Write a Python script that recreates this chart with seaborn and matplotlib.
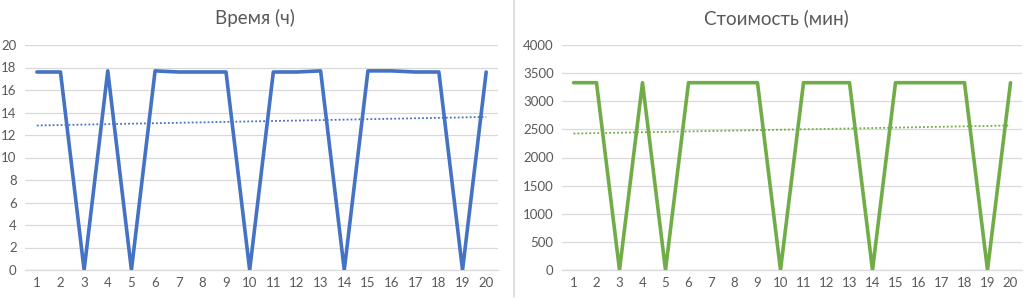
import matplotlib
matplotlib.use("Agg")
import matplotlib.pyplot as plt
import seaborn as sns
import numpy as np
from matplotlib.lines import Line2D

sns.set_theme(style="white")
plt.rcParams['font.family'] = ['Lato', 'DejaVu Sans']

runs = list(range(1, 21))
time_h = [17.6, 17.6, 0, 17.7, 0, 17.7, 17.6, 17.6, 17.6, 0,
          17.6, 17.6, 17.7, 0, 17.7, 17.7, 17.6, 17.6, 0, 17.6]
cost_min = [3330, 3330, 0, 3330, 0, 3330, 3330, 3330, 3330, 0,
            3330, 3330, 3330, 0, 3330, 3330, 3330, 3330, 0, 3330]
titles = ["Время (ч)", "Стоимость (мин)"]
yticks_left = [0, 2, 4, 6, 8, 10, 12, 14, 16, 18, 20]
yticks_right = [0, 500, 1000, 1500, 2000, 2500, 3000, 3500, 4000]

W, H = 1034, 300
fig = plt.figure(figsize=(W / 100, H / 100), dpi=100)
fig.patch.set_facecolor("white")

tick_color = "#595959"
grid_color = "#d9d9d9"

def panel(x0, x1, y, color, yticks, title, title_cx):
    ax = fig.add_axes([x0 / W, (H - 270) / H, (x1 - x0) / W, (270 - 45) / H])
    sns.lineplot(x=runs, y=y, ax=ax, color=color, lw=2.6, zorder=3)
    sns.regplot(x=np.array(runs, dtype=float), y=np.array(y, dtype=float), ax=ax,
                scatter=False, ci=None, color=color,
                line_kws=dict(ls=(0, (1, 1.2)), lw=1.3, zorder=2))
    ax.set_xlim(0.5, 20.5)
    ax.set_ylim(yticks[0], yticks[-1])
    ax.set_yticks(yticks)
    ax.set_xticks(runs)
    ax.set_xticklabels([str(r) for r in runs])
    ax.grid(axis="y", color=grid_color, lw=0.9)
    ax.grid(axis="x", visible=False)
    for s in ["top", "right", "left"]:
        ax.spines[s].set_visible(False)
    ax.spines["bottom"].set_color(grid_color)
    ax.spines["bottom"].set_linewidth(0.9)
    ax.tick_params(axis="both", colors=tick_color, labelsize=9.5, length=0)
    ax.tick_params(axis="y", pad=6)
    ax.tick_params(axis="x", pad=5)
    ax.set_xlabel("")
    ax.set_ylabel("")
    fig.text(title_cx / W, 1 - 18 / H, title, ha="center", va="center",
             fontsize=13.5, color=tick_color)
    return ax

panel(25, 498, time_h, "#4472C4", yticks_left, titles[0], 255)
panel(562, 1022, cost_min, "#70AD47", yticks_right, titles[1], 776)

fig.add_artist(Line2D([514 / W, 514 / W], [3 / H, 1], transform=fig.transFigure,
                      color="#d9d9d9", lw=1.2))

fig.savefig("out.png", dpi=100, facecolor="white")
